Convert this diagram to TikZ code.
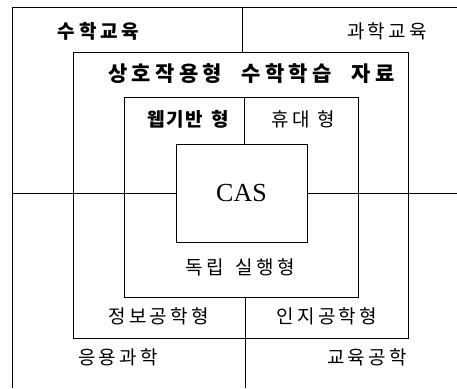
\documentclass[tikz,border=0pt]{standalone}
\usepackage{fontspec}
\setmainfont{Liberation Serif}
\newfontfamily\kr{Noto Sans CJK KR}[LetterSpace=17]
\newfontfamily\krb{Noto Sans CJK KR}[LetterSpace=20]
\newfontfamily\krt{Noto Sans CJK KR}[LetterSpace=20]
\newfontfamily\krn{Noto Sans CJK KR}[LetterSpace=8]
\begin{document}
\begin{tikzpicture}[x=1pt,y=-1pt,
  ln/.style={line width=0.9pt},
  box/.style={draw, ln, inner sep=0pt},
  lbl/.style={font=\kr\fontsize{19}{21}\selectfont, inner sep=0pt},
  blbl/.style={font=\krb\bfseries\fontsize{19}{21}\selectfont, inner sep=0pt},
  nblbl/.style={font=\krn\bfseries\fontsize{19}{21}\selectfont, inner sep=0pt},
  title/.style={font=\krt\bfseries\fontsize{21}{23}\selectfont, inner sep=0pt}]
\useasboundingbox[fill=white] (0,0) rectangle (457,388);
% outer frame
\coordinate (oBL) at (12,388);
\coordinate (oTL) at (12,7);
\coordinate (oTR) at (457,7);
\draw[ln] (oBL) -- (oTL) -- (oTR);
% boxes
\node[box, minimum width=335pt, minimum height=286pt] (mid) at (240.5,195) {};
\node[box, minimum width=234pt, minimum height=200pt] (inner) at (241,197) {};
\node[box, fill=white, minimum width=131pt, minimum height=98pt, font=\fontsize{26}{30}\selectfont] (cas) at (241.5,193) {CAS};
% dividers
\coordinate (t1) at (242,7);
\draw[ln] (t1) -- (t1 |- mid.north);
\coordinate (t2) at (244,144);
\draw[ln] (t2 |- inner.north) -- (t2 |- cas.north);
\coordinate (lft) at (12,193);
\coordinate (rgt) at (457,193);
\draw[ln] (lft) -- (cas.west);
\draw[ln] (cas.east) -- (rgt);
\coordinate (b1) at (245,388);
\draw[ln] (b1 |- inner.south) -- (b1);
% labels
\node[blbl] (l1) at (98.5,31) {수학교육};
\node[lbl] (l2) at (387,31) {과학교육};
\node[title] (l3) at (251.5,74) {상호작용형\hspace{20pt}수학학습\hspace{20pt}자료};
\node[nblbl] (l4) at (188,119) {웹기반\hspace{9pt}형};
\node[lbl] (l5) at (303.5,119) {휴대\hspace{8pt}형};
\node[lbl] (l6) at (240,267) {독립\hspace{12pt}실행형};
\node[lbl] (l7) at (158.5,316) {정보공학형};
\node[lbl] (l8) at (327,316) {인지공학형};
\node[lbl] (l9) at (118,357.5) {응용과학};
\node[lbl] (l10) at (367,357.5) {교육공학};
\end{tikzpicture}
\end{document}
